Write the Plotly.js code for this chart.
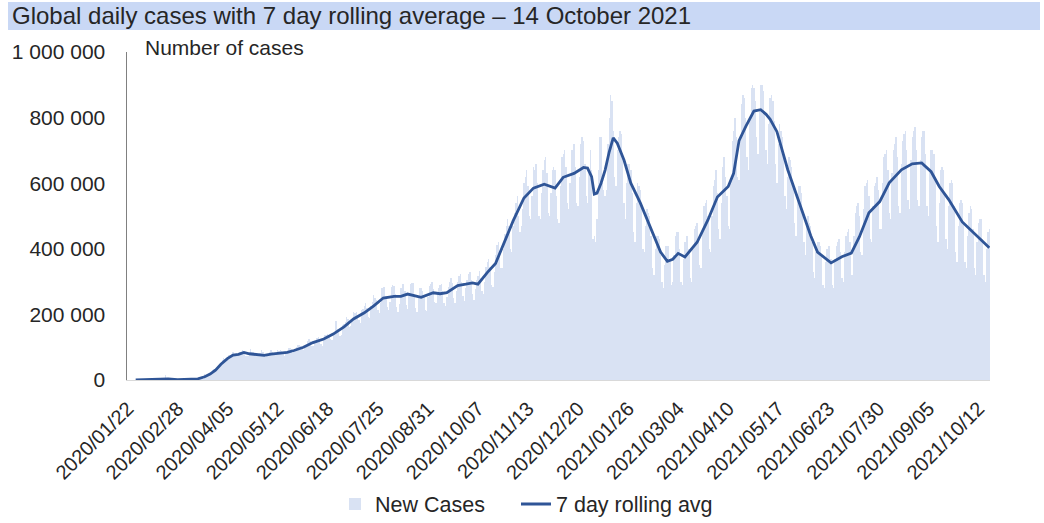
<!DOCTYPE html>
<html><head><meta charset="utf-8">
<script src="https://cdn.plot.ly/plotly-3.0.1.min.js"></script>
<style>html,body{margin:0;padding:0;background:#fff}#chart{width:1044px;height:523px}</style>
</head><body><div id="chart"></div>
<script>
// Daily new cases (global), one array per month, starting 2020-01-22
const jan2020 = [555,100,290,490,680,810,2650,590,2070,1690];
const feb2020 = [2110,2610,2820,3240,3910,3730,3170,3430,2690,3010,2540,2020,15150,6520,2130,2040,1890,1750,1770,890,550,1000,640,590,860,950,1080,1380,1820];
const mar2020 = [1810,2000,2510,2300,2740,3930,4020,3830,3920,4640,7200,2400,16800,11000,11500,14300,16800,19900,29300,32500,32400,35000,43000,45000,52000,62000,66000,64000,60000,64000,75000];
const apr2020 = [76000,79000,84000,78000,72000,74000,78000,84000,86000,92000,81000,72000,74000,72000,82000,95000,85000,84000,76000,72000,75000,78000,82000,92000,86000,75000,69000,74000,76000,85000];
const may2020 = [90000,85000,80000,78000,81000,93000,87000,91000,88000,79000,74000,87000,84000,97000,98000,94000,81000,87000,94000,102000,107000,107000,105000,97000,91000,98000,104000,118000,126000,120000,104000];
const jun2020 = [103000,113000,118000,128000,131000,121000,109000,105000,124000,136000,137000,140000,134000,126000,121000,140000,143000,180000,155000,157000,135000,137000,167000,171000,176000,192000,185000,163000,165000,179000];
const jul2020 = [208000,205000,206000,193000,183000,173000,213000,217000,225000,234000,220000,193000,190000,226000,238000,260000,251000,244000,213000,205000,236000,281000,285000,283000,256000,223000,214000,237000,285000,290000,288000];
const aug2020 = [262000,222000,208000,232000,282000,292000,292000,270000,228000,218000,262000,292000,296000,296000,262000,220000,208000,252000,282000,282000,272000,256000,214000,210000,252000,288000,292000,298000,276000,238000,236000];
const sep2020 = [262000,282000,290000,292000,272000,236000,226000,252000,285000,300000,312000,296000,250000,236000,272000,300000,318000,322000,300000,256000,240000,282000,304000,322000,330000,304000,262000,245000,278000,306000];
const oct2020 = [318000,332000,310000,270000,262000,300000,345000,360000,368000,345000,290000,284000,330000,380000,412000,420000,392000,340000,340000,400000,445000,470000,490000,470000,400000,390000,470000,510000,540000,560000,500000];
const nov2020 = [450000,470000,520000,600000,620000,640000,590000,500000,490000,560000,650000,640000,660000,600000,500000,490000,570000,640000,670000,680000,630000,510000,500000,570000,640000,650000,640000,560000,490000,480000];
const dec2020 = [590000,680000,690000,700000,650000,540000,520000,600000,700000,700000,720000,650000,540000,530000,620000,720000,740000,730000,660000,560000,540000,630000,700000,640000,430000,440000,420000,490000,640000,740000,740000];
const jan2021 = [600000,580000,560000,580000,720000,800000,870000,850000,760000,620000,590000,700000,740000,760000,750000,690000,540000,490000,600000,660000,660000,640000,570000,450000,420000,540000,600000,590000,580000,520000,400000];
const feb2021 = [390000,470000,520000,510000,500000,440000,340000,320000,400000,440000,440000,430000,380000,300000,280000,350000,410000,410000,410000,370000,290000,300000,380000,440000,450000,450000,400000,300000];
const mar2021 = [290000,370000,420000,440000,440000,400000,310000,300000,400000,460000,470000,480000,430000,350000,340000,450000,530000,540000,550000,500000,400000,390000,500000,590000,610000,640000,570000,460000,430000,540000,650000];
const apr2021 = [680000,620000,560000,470000,460000,610000,730000,760000,800000,740000,620000,610000,740000,840000,870000,860000,800000,680000,640000,800000,890000,900000,890000,850000,740000,690000,820000,900000,900000,880000];
const may2021 = [820000,700000,660000,780000,860000,870000,850000,790000,660000,600000,720000,780000,760000,740000,680000,560000,520000,620000,680000,670000,650000,590000,480000,440000,550000,590000,590000,570000,520000,420000,380000];
const jun2021 = [470000,500000,480000,470000,420000,330000,310000,390000,420000,420000,410000,380000,290000,280000,360000,400000,410000,410000,370000,290000,280000,370000,410000,420000,430000,390000,310000,300000,390000,440000];
const jul2021 = [450000,460000,420000,320000,320000,440000,510000,530000,540000,500000,390000,380000,520000,590000,600000,610000,560000,430000,420000,530000,590000,600000,620000,580000,460000,460000,600000,680000,690000,700000,640000];
const aug2021 = [510000,490000,630000,700000,720000,740000,680000,530000,510000,660000,730000,750000,760000,700000,550000,520000,670000,740000,760000,770000,700000,550000,530000,670000,740000,760000,760000,690000,530000,500000,640000];
const sep2021 = [700000,700000,690000,620000,470000,420000,540000,640000,650000,640000,570000,430000,400000,530000,600000,610000,600000,530000,390000,360000,470000,540000,550000,540000,480000,360000,340000,440000,510000,530000];
const oct2021 = [520000,460000,340000,320000,420000,480000,490000,490000,430000,320000,300000,400000,450000,460000];

// 7 day rolling average
const avgDates = ['2020-01-22','2020-02-01','2020-02-08','2020-02-15','2020-02-22','2020-03-01','2020-03-08','2020-03-13','2020-03-17','2020-03-21','2020-03-25','2020-03-30','2020-04-03','2020-04-07','2020-04-11','2020-04-15','2020-04-20','2020-04-26','2020-05-01','2020-05-06','2020-05-13','2020-05-18','2020-05-25','2020-06-01','2020-06-09','2020-06-16','2020-06-24','2020-07-01','2020-07-09','2020-07-16','2020-07-23','2020-07-31','2020-08-05','2020-08-10','2020-08-15','2020-08-20','2020-08-29','2020-09-03','2020-09-08','2020-09-16','2020-09-22','2020-09-27','2020-10-01','2020-10-08','2020-10-14','2020-10-20','2020-10-27','2020-11-04','2020-11-11','2020-11-19','2020-11-27','2020-12-03','2020-12-11','2020-12-18','2020-12-21','2020-12-24','2020-12-26','2020-12-28','2020-12-31','2021-01-03','2021-01-06','2021-01-09','2021-01-12','2021-01-17','2021-01-22','2021-01-29','2021-02-06','2021-02-13','2021-02-18','2021-02-22','2021-02-26','2021-03-03','2021-03-12','2021-03-20','2021-03-27','2021-04-04','2021-04-08','2021-04-12','2021-04-17','2021-04-23','2021-04-28','2021-05-02','2021-05-05','2021-05-10','2021-05-18','2021-05-25','2021-05-31','2021-06-04','2021-06-09','2021-06-19','2021-06-27','2021-07-04','2021-07-10','2021-07-17','2021-07-25','2021-08-01','2021-08-10','2021-08-18','2021-08-25','2021-09-01','2021-09-07','2021-09-14','2021-09-24','2021-10-04','2021-10-14'];
const avgValues = [600,2000,3000,3000,1000,1500,3500,10000,18000,30000,48000,66000,76000,78000,84000,80000,78000,75000,79000,81000,84000,90000,100000,114000,125000,140000,162000,186000,205000,226000,250000,255000,255000,262000,258000,252000,266000,263000,266000,288000,292000,296000,292000,328000,355000,415000,485000,555000,585000,597000,585000,618000,630000,648000,646000,620000,567000,570000,600000,640000,695000,738000,722000,670000,600000,540000,458000,390000,362000,368000,386000,375000,420000,488000,558000,590000,630000,730000,773000,820000,824000,810000,795000,757000,641000,560000,488000,440000,390000,357000,376000,387000,437000,510000,544000,601000,641000,659000,662000,635000,590000,550000,482000,443000,403000];

const tickDates = ['2020-01-22','2020-02-28','2020-04-05','2020-05-12','2020-06-18','2020-07-25','2020-08-31','2020-10-07','2020-11-13','2020-12-20','2021-01-26','2021-03-04','2021-04-10','2021-05-17','2021-06-23','2021-07-30','2021-09-05','2021-10-12'];

const newCases = [].concat(jan2020,feb2020,mar2020,apr2020,may2020,jun2020,jul2020,aug2020,sep2020,oct2020,nov2020,dec2020,
  jan2021,feb2021,mar2021,apr2021,may2021,jun2021,jul2021,aug2021,sep2021,oct2021);
const start = Date.UTC(2020,0,22);
const days = newCases.map((_, i) => new Date(start + i*86400000).toISOString().slice(0,10));

const W = 1044, H = 523, L = 127, R = 54, T = 52, B = 143;
const pw = W - L - R, ph = H - T - B;
const px = v => (v - L) / pw;
const py = v => (H - B - v) / ph;

const font = 'Liberation Sans, Arial, sans-serif';
const txt = '#262626';

const data = [
  {type:'bar', x: days, y: newCases, name:'New Cases', legend:'legend', marker:{color:'#d9e2f3', line:{width:0}}, hoverinfo:'skip'},
  {type:'scatter', mode:'lines', x: avgDates, y: avgValues, name:'7 day rolling avg', legend:'legend2', line:{color:'#2f5597', width:2.8}, hoverinfo:'skip'}
];

const legendBase = {orientation:'h', xref:'container', yref:'container', xanchor:'left', y:1-504/H, yanchor:'middle', font:{size:21.5, color:txt}, bgcolor:'rgba(0,0,0,0)'};

const layout = {
  width: W, height: H,
  margin:{l:L, r:R, t:T, b:B, pad:0, autoexpand:false},
  paper_bgcolor:'#fff', plot_bgcolor:'#fff',
  font:{family:font, size:20, color:txt},
  separators:'. ',
  bargap:0,
  showlegend:true,
  title:{text:'Global daily cases with 7 day rolling average – 14 October 2021', x:12/W, xanchor:'left', xref:'container', y:1-16/H, yanchor:'middle', yref:'container', font:{family:font, size:24, color:txt}},
  xaxis:{type:'date', automargin:false, range:['2020-01-15 14:00','2021-10-14 12:00'], tickvals: tickDates, tickformat:'%Y/%m/%d', tickangle:-45, showgrid:false, zeroline:false, showline:true, linecolor:'#d9d9d9', linewidth:1, ticks:'', ticklabelstandoff:8, ticklabelshift:-8, tickfont:{size:20, color:txt}},
  yaxis:{automargin:false, range:[0,1000000], dtick:200000, tick0:0, tickformat:',d', showgrid:false, zeroline:false, showline:true, linecolor:'#808080', linewidth:1.5, ticks:'', ticklabelstandoff:16, tickfont:{size:21, color:txt}},
  legend: Object.assign({}, legendBase, {x:335/W}),
  legend2: Object.assign({}, legendBase, {x:516/W}),
  shapes:[{type:'rect', xref:'paper', yref:'paper', x0:px(8), x1:px(1040), y0:py(30), y1:py(2), fillcolor:'#c9d8f5', line:{width:0}, layer:'below'}],
  annotations:[{text:'Number of cases', xref:'paper', yref:'paper', x:px(143), xanchor:'left', y:py(47), yanchor:'middle', showarrow:false, font:{family:font, size:21, color:txt}}]
};

Plotly.newPlot('chart', data, layout, {displayModeBar:false, staticPlot:true});
</script>
</body></html>
